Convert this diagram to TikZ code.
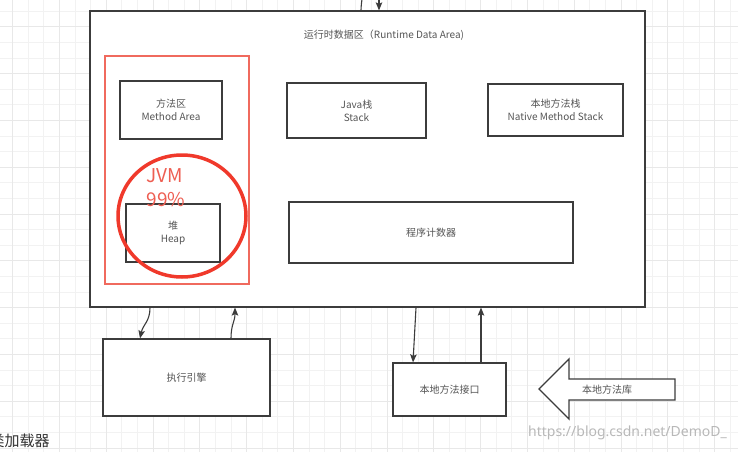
\documentclass[tikz,border=0pt]{standalone}
\usepackage{fontspec}
\setmainfont{Noto Sans CJK SC}
\newfontfamily\wmfont{Noto Sans}
\usetikzlibrary{arrows.meta,shapes.geometric}
\definecolor{boxline}{HTML}{3C3C3C}
\definecolor{txt}{HTML}{555555}
\definecolor{redc}{HTML}{F0392B}
\definecolor{redr}{HTML}{F06A5E}
\definecolor{redt}{HTML}{EE5E52}
\definecolor{gridc}{HTML}{F2F2F2}
\definecolor{gridd}{HTML}{E8E8E8}
\begin{document}
\begin{tikzpicture}[x=1pt,y=-1pt,
  box/.style={draw=boxline,line width=1.2pt,fill=white,inner sep=0pt,align=center,
    font=\fontsize{10}{13}\selectfont,text=txt},
  conn/.style={draw=boxline,line width=1.1pt,-{Stealth[length=8pt,width=6.5pt,inset=1.5pt]}},
  lbl/.style={inner sep=0pt,align=center,font=\fontsize{10}{13}\selectfont,text=txt},
]
\useasboundingbox (0,0) rectangle (738,452);
\clip (0,0) rectangle (738,452);
\fill[white] (0,0) rectangle (738,452);
% background grid
\foreach \i in {0,...,48} {
  \draw[gridc,line width=0.5pt] ({12.4+\i*15.6},0) -- ({12.4+\i*15.6},452);
}
\foreach \j in {0,...,30} {
  \draw[gridc,line width=0.5pt] (0,{-20.1+\j*15.6}) -- (738,{-20.1+\j*15.6});
}
\foreach \j in {0,...,10} {
  \draw[gridd,line width=0.6pt] (0,{-20.1+\j*46.8}) -- (738,{-20.1+\j*46.8});
}
\foreach \i in {0,...,16} {
  \draw[gridd,line width=0.6pt] ({12.4+\i*46.8},0) -- ({12.4+\i*46.8},452);
}

% runtime data area
\node[box,minimum width=555pt,minimum height=296pt] (rda) at (367.5,159) {};
\node[lbl] (title) at (384,35) {运行时数据区（Runtime Data Area)};

% red rectangle
\node[draw=redr,line width=1.5pt,minimum width=144pt,minimum height=228pt,inner sep=0pt] (redbox) at (177,170) {};

\node[box,minimum width=102pt,minimum height=58pt] (method) at (171,110) {方法区\\Method Area};
\node[box,minimum width=139pt,minimum height=55pt] (java) at (356.5,110.5) {Java栈\\Stack};
\node[box,minimum width=135pt,minimum height=52pt] (native) at (555.5,110) {本地方法栈\\Native Method Stack};
\node[box,minimum width=94pt,minimum height=58pt] (heap) at (173,233) {堆\\Heap};
\node[box,minimum width=284pt,minimum height=61pt] (pc) at (431,232.5) {程序计数器};

% red circle
\node[draw=redc,line width=3.5pt,ellipse,minimum width=128pt,minimum height=122pt,inner sep=0pt] (circ) at (182,216) {};
\node[inner sep=0pt,align=left,text=redt,font=\fontsize{19}{24}\selectfont] (jvm) at (166,188) {JVM\\99\%};

% bottom boxes
\node[box,minimum width=167pt,minimum height=77pt] (exec) at (186.5,377.5) {执行引擎};
\node[box,minimum width=113pt,minimum height=53pt] (nif) at (449.5,389.5) {本地方法接口};

% block arrow
\draw[draw=boxline,line width=1.3pt,fill=white,line join=miter]
  (539,389) -- (569,359) -- (569,379) -- (675,379) -- (675,400) -- (569,400) -- (569,419) -- cycle;
\node[lbl] (lib) at (607,390) {本地方法库};

% connectors
\draw[conn] ([xshift=-217.5pt]rda.south) .. controls +(0,14) and +(3,-14) .. ([xshift=-46.5pt]exec.north);
\draw[conn] ([xshift=44.5pt]exec.north) .. controls +(0,-14) and +(0,14) .. ([xshift=-132.5pt]rda.south);
\draw[conn] ([xshift=48.5pt]rda.south) -- ([xshift=-36.5pt]nif.north);
\draw[conn] ([xshift=31.5pt]nif.north) -- ([xshift=113.5pt]rda.south);

\coordinate (upend) at (364,-20);
\coordinate (dnstart) at (379,-20);
\draw[draw=boxline,line width=1.1pt] ([xshift=-6.5pt]rda.north) .. controls +(0,-8) and +(0,8) .. (upend);
\draw[conn] (dnstart) -- ([xshift=11.5pt]rda.north);

% texts
\node[anchor=west,inner sep=0pt,text=black!80,font=\fontsize{15}{18}\selectfont] (loader) at (-10.5,441) {类加载器};
\node[anchor=east,inner sep=0pt,text=black!28,font=\wmfont\fontsize{14}{16}\selectfont] (wm) at (727,433) {https://blog.csdn.net/DemoD\_};
\end{tikzpicture}
\end{document}
